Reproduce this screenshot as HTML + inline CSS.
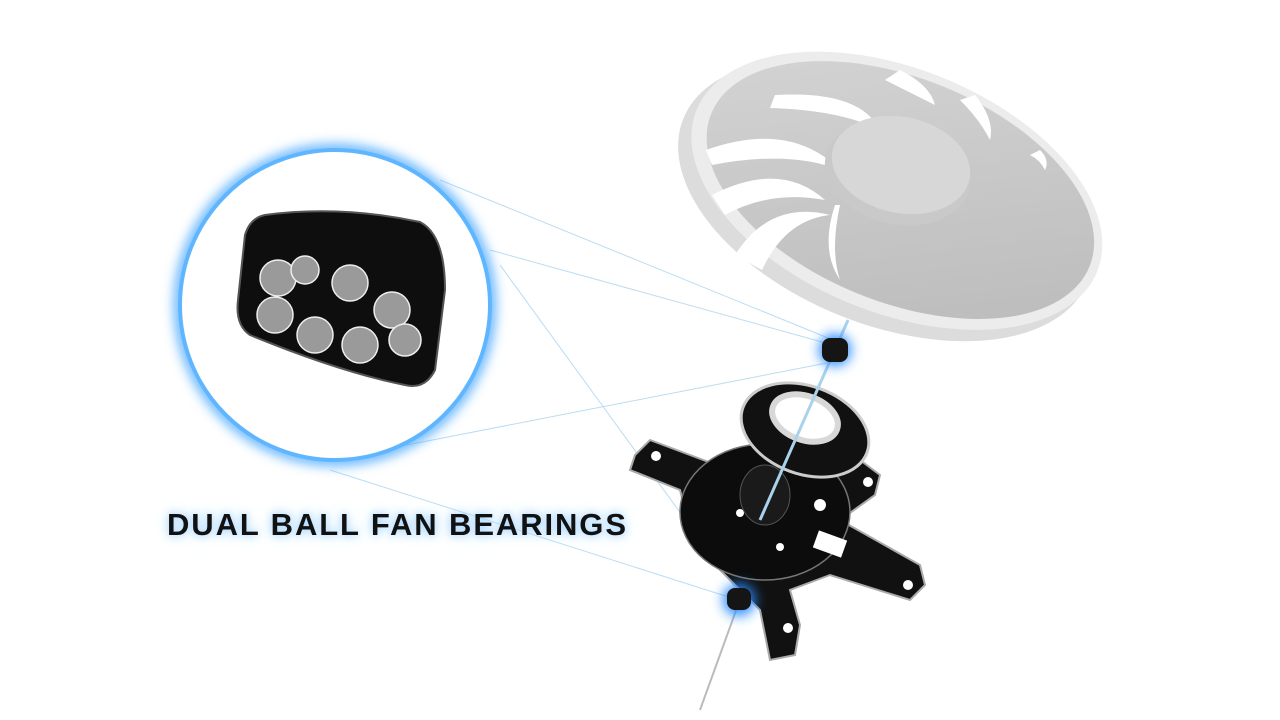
<!DOCTYPE html>
<html><head><style>
html,body{margin:0;padding:0;background:#fff;width:1280px;height:720px;overflow:hidden}
.t{position:absolute;left:167px;top:507px;font:bold 31px "Liberation Sans",sans-serif;letter-spacing:1.9px;color:#111;text-shadow:0 0 8px #9fd2ff,0 0 16px #bfe2ff}
</style></head><body>
<svg width="1280" height="720" style="position:absolute;left:0;top:0">
<defs>
<filter id="g" x="-50%" y="-50%" width="200%" height="200%"><feGaussianBlur stdDeviation="6"/></filter>
<linearGradient id="face" x1="0" y1="0" x2="1" y2="1"><stop offset="0" stop-color="#d6d6d6"/><stop offset="1" stop-color="#b9b9b9"/></linearGradient>
</defs>
<g stroke="#bcdcf2" stroke-width="1" fill="none">
<line x1="440" y1="180" x2="833" y2="340"/>
<line x1="490" y1="250" x2="833" y2="345"/>
<line x1="330" y1="460" x2="832" y2="362"/>
<line x1="330" y1="470" x2="738" y2="600"/>
<line x1="500" y1="265" x2="738" y2="592"/>
</g>
<g transform="rotate(22 895 190)">
<ellipse cx="890" cy="203" rx="218" ry="124" fill="#dcdcdc"/>
<ellipse cx="897" cy="190" rx="216" ry="122" fill="#ececec"/>
<ellipse cx="900" cy="188" rx="204" ry="112" fill="url(#face)"/>
</g>
<g fill="#fff">
<path d="M706 150 Q790 120 840 170 Q790 150 712 165Z"/>
<path d="M712 195 Q780 160 825 200 Q770 190 725 215Z"/>
<path d="M735 255 Q770 200 830 215 Q785 220 762 270Z"/>
<path d="M775 95 Q860 90 880 130 Q840 110 770 108Z"/>
<path d="M900 70 Q930 85 935 105 Q915 95 885 80Z"/>
<path d="M975 95 Q995 120 990 140 Q980 120 960 100Z"/>
<path d="M1040 150 Q1050 160 1045 170 Q1040 160 1030 155Z"/>
<path d="M840 205 Q830 250 840 280 Q820 250 835 205Z"/>
</g>
<ellipse cx="898" cy="172" rx="74" ry="52" fill="#c9c9c9" transform="rotate(12 898 172)"/>
<ellipse cx="901" cy="165" rx="70" ry="48" fill="#d7d7d7" transform="rotate(12 901 165)"/>
<g fill="#111" stroke="#aaa" stroke-width="2">
<path d="M635 455 L650 440 L730 470 L800 470 L860 460 L880 475 L875 495 L840 520 L920 565 L925 585 L910 600 L830 575 L790 590 L800 625 L795 655 L770 660 L760 610 L720 570 L690 530 L680 490 L630 470Z"/>
</g>
<ellipse cx="765" cy="512" rx="85" ry="68" fill="#0c0c0c" stroke="#777" stroke-width="1.5"/>
<g fill="#fff"><circle cx="656" cy="456" r="5"/><circle cx="868" cy="482" r="5"/><circle cx="908" cy="585" r="5"/><circle cx="788" cy="628" r="5"/><circle cx="820" cy="505" r="6"/><circle cx="740" cy="513" r="4"/><circle cx="780" cy="547" r="4"/><rect x="815" y="535" width="30" height="18" transform="rotate(20 830 544)"/></g>
<ellipse cx="765" cy="495" rx="25" ry="30" fill="#1a1a1a" stroke="#555"/>
<ellipse cx="805" cy="430" rx="66" ry="44" fill="#111" stroke="#ccc" stroke-width="3" transform="rotate(20 805 430)"/>
<ellipse cx="805" cy="418" rx="34" ry="22" fill="#fff" stroke="#d8d8d8" stroke-width="6" transform="rotate(20 805 418)"/>
<line x1="848" y1="320" x2="760" y2="520" stroke="#a9d2ec" stroke-width="3"/>
<line x1="738" y1="605" x2="700" y2="710" stroke="#bbb" stroke-width="2"/>
<circle cx="835" cy="350" r="16" fill="#2a8cff" filter="url(#g)"/>
<rect x="822" y="338" width="26" height="24" rx="8" fill="#151515"/>
<circle cx="739" cy="600" r="16" fill="#2a8cff" filter="url(#g)"/>
<rect x="727" y="588" width="24" height="22" rx="8" fill="#151515"/>
<circle cx="335" cy="305" r="155" fill="none" stroke="#3ea3ff" stroke-width="10" filter="url(#g)"/>
<circle cx="335" cy="305" r="155" fill="#fff" stroke="#5fb6ff" stroke-width="4"/>
<path d="M265 215 Q340 205 420 222 Q445 235 445 290 L435 370 Q425 390 405 385 Q340 372 250 335 Q235 325 238 300 L245 235 Q250 218 265 215Z" fill="#0e0e0e" stroke="#555" stroke-width="2"/>
<g fill="#9a9a9a" stroke="#eee" stroke-width="1.5">
<circle cx="278" cy="278" r="18"/><circle cx="350" cy="283" r="18"/><circle cx="392" cy="310" r="18"/>
<circle cx="275" cy="315" r="18"/><circle cx="315" cy="335" r="18"/><circle cx="360" cy="345" r="18"/><circle cx="405" cy="340" r="16"/><circle cx="305" cy="270" r="14"/>
</g>
</svg>
<div class="t">DUAL BALL FAN BEARINGS</div>
</body></html>
